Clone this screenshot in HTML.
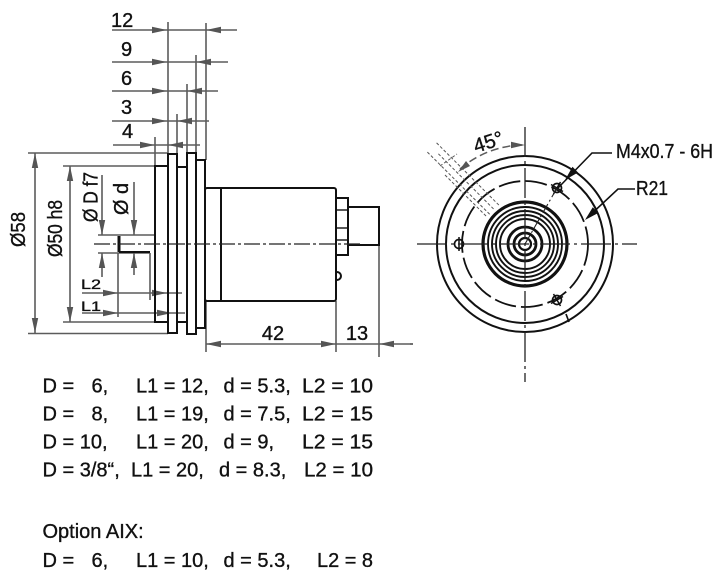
<!DOCTYPE html>
<html><head><meta charset="utf-8">
<style>
html,body{margin:0;padding:0;background:#fff;}
svg{display:block;}
text{font-family:"Liberation Sans",Arial,sans-serif;fill:#111;stroke:#111;stroke-width:0.35;}
</style></head><body>
<svg width="723" height="582" viewBox="0 0 723 582" xmlns="http://www.w3.org/2000/svg">
<!-- ============ LEFT VIEW: dimension lines (gray) ============ -->
<g stroke="#5c5c5c" stroke-width="1.6" fill="none">
  <line x1="112" y1="30" x2="237" y2="30"/>
  <line x1="112" y1="62" x2="228" y2="62"/>
  <line x1="112" y1="91" x2="218" y2="91"/>
  <line x1="112" y1="121" x2="209" y2="121"/>
  <line x1="113" y1="145" x2="200" y2="145"/>
  <line x1="168" y1="22" x2="168" y2="155"/>
  <line x1="206" y1="23" x2="206" y2="160"/>
  <line x1="196" y1="55" x2="196" y2="153"/>
  <line x1="187" y1="84" x2="187" y2="167"/>
  <line x1="177" y1="114" x2="177" y2="155"/>
  <line x1="155" y1="137" x2="155" y2="166"/>
  <line x1="28" y1="153" x2="168" y2="153"/>
  <line x1="63" y1="166" x2="155" y2="166"/>
  <line x1="63" y1="322" x2="155" y2="322"/>
  <line x1="28" y1="333.5" x2="168" y2="333.5"/>
  <line x1="35" y1="153" x2="35" y2="333"/>
  <line x1="70" y1="166" x2="70" y2="322"/>
  <line x1="102" y1="175" x2="102" y2="235"/>
  <line x1="102" y1="253" x2="102" y2="277"/>
  <line x1="134" y1="182" x2="134" y2="235"/>
  <line x1="134" y1="253" x2="134" y2="275"/>
  <line x1="98" y1="235" x2="155" y2="235"/>
  <line x1="98" y1="253" x2="150" y2="253"/>
  <line x1="150" y1="253" x2="150" y2="300"/>
  <line x1="118" y1="253" x2="118" y2="317"/>
  <line x1="82" y1="293" x2="182" y2="293"/>
  <line x1="82" y1="313" x2="185" y2="313"/>
  <line x1="206" y1="344" x2="410" y2="344"/>
  <line x1="206" y1="301" x2="206" y2="352"/>
  <line x1="336" y1="301" x2="336" y2="352"/>
  <line x1="379" y1="245" x2="379" y2="357"/>
</g>
<g fill="#555">
  <polygon points="167,30 152,26.8 152,33.2"/>
  <polygon points="206,30 221,26.8 221,33.2"/>
  <polygon points="167,62 152,58.8 152,65.2"/>
  <polygon points="196,62 211,58.8 211,65.2"/>
  <polygon points="167,91 152,87.8 152,94.2"/>
  <polygon points="187,91 202,87.8 202,94.2"/>
  <polygon points="167,121 152,117.8 152,124.2"/>
  <polygon points="177,121 192,117.8 192,124.2"/>
  <polygon points="155,145 140,141.8 140,148.2"/>
  <polygon points="168,145 183,141.8 183,148.2"/>
  <polygon points="35,153 31.8,168 38.2,168"/>
  <polygon points="35,333 31.8,318 38.2,318"/>
  <polygon points="70,166 66.8,181 73.2,181"/>
  <polygon points="70,322 66.8,307 73.2,307"/>
  <polygon points="102,235 98.8,220 105.2,220"/>
  <polygon points="102,253 98.8,268 105.2,268"/>
  <polygon points="134,235 130.8,220 137.2,220"/>
  <polygon points="134,253 130.8,268 137.2,268"/>
  <polygon points="118,293 103,289.8 103,296.2"/>
  <polygon points="167,293 152,289.8 152,296.2"/>
  <polygon points="118,313 103,309.8 103,316.2"/>
  <polygon points="172,313 157,309.8 157,316.2"/>
  <polygon points="206,344 221,340.8 221,347.2"/>
  <polygon points="336,344 321,340.8 321,347.2"/>
  <polygon points="379,344 394,340.8 394,347.2"/>
</g>

<!-- ============ LEFT VIEW: body (black) ============ -->
<g stroke="#111" stroke-width="2" fill="none">
  <rect x="155" y="166" width="13" height="156"/>
  <rect x="168" y="154" width="9" height="179"/>
  <rect x="177" y="167" width="10" height="155"/>
  <rect x="187" y="153" width="9" height="181"/>
  <rect x="196" y="160" width="9" height="168"/>
  <rect x="205" y="188" width="131" height="113" rx="2"/>
  <line x1="221" y1="188" x2="221" y2="301"/>
  <rect x="336" y="198" width="12" height="57"/>
  <line x1="336" y1="210" x2="348" y2="210" stroke-width="1.4"/>
  <line x1="336" y1="228" x2="348" y2="228" stroke-width="1.4"/>
  <line x1="336" y1="240" x2="348" y2="240" stroke-width="1.4"/>
  <rect x="348" y="207" width="31" height="38"/>
  <path d="M337,272 A4,4 0 0 1 337,280"/>
  <line x1="119" y1="236" x2="119" y2="252" stroke-width="3"/>
  <line x1="119" y1="252" x2="150" y2="252" stroke-width="2"/>
</g>
<line x1="94" y1="244" x2="362" y2="244" stroke="#222" stroke-width="1.3" stroke-dasharray="16 3 3 3"/>

<!-- ============ LEFT VIEW: labels ============ -->
<g font-size="20">
  <text x="111" y="27">12</text>
  <text x="121" y="56">9</text>
  <text x="121" y="85">6</text>
  <text x="121" y="114">3</text>
  <text x="122" y="138">4</text>
  <text x="273" y="340" text-anchor="middle">42</text>
  <text x="357" y="340" text-anchor="middle">13</text>
  <text transform="translate(25,229.5) rotate(-90)" text-anchor="middle" textLength="35" lengthAdjust="spacingAndGlyphs">Ø58</text>
  <text transform="translate(62,228.5) rotate(-90)" text-anchor="middle" textLength="57" lengthAdjust="spacingAndGlyphs">Ø50 h8</text>
  <text transform="translate(97.5,197) rotate(-90)" text-anchor="middle" textLength="50" lengthAdjust="spacingAndGlyphs">Ø D f7</text>
  <text transform="translate(128,199) rotate(-90)" text-anchor="middle" textLength="32" lengthAdjust="spacingAndGlyphs">Ø d</text>
</g>
<g font-size="14">
  <text x="81" y="289" textLength="20" lengthAdjust="spacingAndGlyphs">L2</text>
  <text x="81" y="311" textLength="20" lengthAdjust="spacingAndGlyphs">L1</text>
</g>

<!-- ============ RIGHT VIEW ============ -->
<g fill="none" stroke="#111">
  <circle cx="525" cy="244" r="88" stroke-width="2"/>
  <circle cx="525" cy="244" r="79" stroke-width="2"/>
  <circle cx="525" cy="244" r="63" stroke-width="1.8" stroke-dasharray="22 5"/>
  <circle cx="525" cy="244" r="42" stroke-width="3.2"/>
  <circle cx="525" cy="244" r="37" stroke-width="1.9"/>
  <circle cx="525" cy="244" r="33" stroke-width="1.9"/>
  <circle cx="525" cy="244" r="29" stroke-width="1.9"/>
  <circle cx="525" cy="244" r="25" stroke-width="1.9"/>
  <circle cx="525" cy="244" r="17" stroke-width="2.8"/>
  <circle cx="525" cy="244" r="11" stroke-width="2.8"/>
  <circle cx="525" cy="244" r="6" stroke-width="2.2"/>
  <circle cx="557" cy="188" r="4.5" stroke-width="1.7"/>
  <circle cx="459" cy="244" r="4.5" stroke-width="1.7"/>
  <circle cx="557" cy="300" r="4.5" stroke-width="1.7"/>
  <g stroke-width="1.5">
    <line x1="553.5" y1="194" x2="560.5" y2="182"/>
    <line x1="551" y1="184.5" x2="563" y2="191.5"/>
    <line x1="553.5" y1="294" x2="560.5" y2="306"/>
    <line x1="551" y1="303.5" x2="563" y2="296.5"/>
    <line x1="459" y1="237" x2="459" y2="251"/>
  </g>
  <line x1="566" y1="314" x2="569" y2="322" stroke-width="1.7"/>
  <polyline points="612,153 592,153 558,188" stroke-width="1.6"/>
  <polyline points="635,189 618,189 587,218" stroke-width="1.6"/>
</g>
<g stroke="#222" stroke-width="1.3" fill="none">
  <line x1="525" y1="127" x2="525" y2="382" stroke-dasharray="30 4 3 4"/>
  <line x1="417" y1="244" x2="637" y2="244" stroke-dasharray="30 4 3 4"/>
  <line x1="525" y1="244" x2="557" y2="188" stroke-dasharray="10 3 2 3" stroke-width="1.1"/>
  <line x1="410" y1="344" x2="413" y2="344"/>
</g>
<g fill="#111">
  <polygon points="565,180 578,172.5 572.5,166.8"/>
  <polygon points="585,220 598.2,213 592.8,207.2"/>
</g>
<g stroke="#555" stroke-width="1" stroke-dasharray="3 2" fill="none">
  <line x1="427.4" y1="152.1" x2="490.4" y2="215"/>
  <line x1="438.4" y1="153.8" x2="495" y2="210.4"/>
  <line x1="436.6" y1="142.9" x2="499.6" y2="205.8"/>
  <line x1="445" y1="175" x2="487" y2="217"/>
  <line x1="440" y1="166" x2="457" y2="154"/>
</g>
<path d="M460,169 A99,99 0 0 1 525,145" fill="none" stroke="#5c5c5c" stroke-width="1.5" stroke-dasharray="8 4"/>
<g fill="#555">
  <polygon points="525,145 511,141.8 511,148.2"/>
  <polygon points="458,172 470,166 466,161"/>
</g>
<text transform="translate(476,153) rotate(-18)" font-size="20">45°</text>
<text x="616" y="158" font-size="20" textLength="97" lengthAdjust="spacingAndGlyphs">M4x0.7 - 6H</text>
<text x="636" y="195" font-size="20" textLength="32" lengthAdjust="spacingAndGlyphs">R21</text>

<!-- ============ TEXT TABLE ============ -->
<g font-size="20">
  <text x="42.5" y="392.5">D =</text>
  <text x="91.5" y="392.5">6,</text>
  <text x="136" y="392.5">L1 = 12,</text>
  <text x="223.5" y="392.5">d = 5.3,</text>
  <text x="302" y="392.5" textLength="71" lengthAdjust="spacingAndGlyphs">L2 = 10</text>

  <text x="42.5" y="420.5">D =</text>
  <text x="91.5" y="420.5">8,</text>
  <text x="136" y="420.5">L1 = 19,</text>
  <text x="223.5" y="420.5">d = 7.5,</text>
  <text x="302" y="420.5" textLength="71" lengthAdjust="spacingAndGlyphs">L2 = 15</text>

  <text x="42.5" y="448.5">D = 10,</text>
  <text x="136" y="448.5">L1 = 20,</text>
  <text x="223.5" y="448.5">d = 9,</text>
  <text x="302" y="448.5" textLength="71" lengthAdjust="spacingAndGlyphs">L2 = 15</text>

  <text x="42.5" y="476.5">D = 3/8“,</text>
  <text x="131" y="476.5">L1 = 20,</text>
  <text x="219" y="476.5">d = 8.3,</text>
  <text x="304" y="476.5" textLength="69" lengthAdjust="spacingAndGlyphs">L2 = 10</text>

  <text x="42.5" y="538">Option AIX:</text>

  <text x="42.5" y="567">D =</text>
  <text x="91.5" y="567">6,</text>
  <text x="136" y="567">L1 = 10,</text>
  <text x="223.5" y="567">d = 5.3,</text>
  <text x="317" y="567" textLength="56" lengthAdjust="spacingAndGlyphs">L2 = 8</text>
</g>
</svg>
</body></html>
